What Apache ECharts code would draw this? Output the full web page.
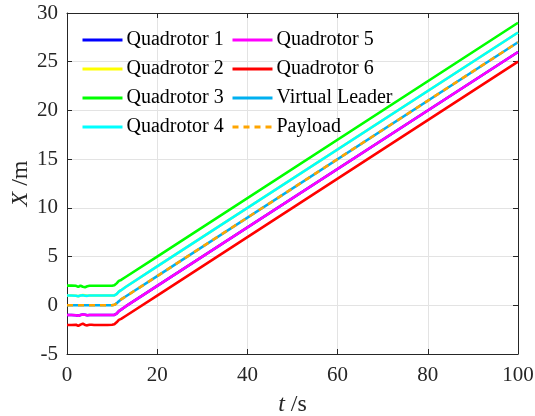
<!DOCTYPE html>
<html>
<head>
<meta charset="utf-8">
<script src="https://cdn.jsdelivr.net/npm/echarts@6/dist/echarts.min.js"></script>
<style>
  html, body { margin: 0; padding: 0; background: #fff; }
  #chart { width: 535px; height: 416px; }
</style>
</head>
<body>
<div id="chart"></div>
<script>
// Sample times (s) shared by every trajectory
const time = [0, 1, 2, 2.5, 3, 3.5, 4, 4.5, 5, 5.5, 6, 7, 8, 9, 10, 10.5, 11, 11.5, 12, 13, 20, 100];

// X position (m) of each agent at the sample times
const quad1 = [-1, -1, -1.02, -1.08, -1, -0.95, -0.98, -1.02, -1, -1, -1, -1, -1, -1, -1, -0.98, -0.85, -0.6, -0.45, -0.12, 2.0, 26.0];
const quad2 = [1, 1, 0.98, 0.92, 1, 1.05, 1.02, 0.98, 1, 1, 1, 1, 1, 1, 1, 1.02, 1.15, 1.4, 1.55, 1.88, 4.0, 28.0];
const quad3 = [2.02, 2.02, 2.0, 1.88, 2.02, 1.9, 1.86, 1.95, 2.0, 2.0, 2.0, 2.0, 2.0, 2.0, 2.0, 2.05, 2.25, 2.5, 2.6, 2.9, 5.0, 29.0];
const quad4 = [1, 1, 0.98, 0.93, 1, 1.03, 0.98, 0.97, 1, 1, 1, 1, 1, 1, 1, 1.02, 1.15, 1.4, 1.55, 1.88, 4.0, 28.0];
const quad5 = [-1, -1, -1.02, -1.08, -1, -0.95, -0.98, -1.02, -1, -1, -1, -1, -1, -1, -1, -0.98, -0.85, -0.6, -0.45, -0.12, 2.0, 26.0];
const quad6 = [-2.02, -2.02, -2.0, -2.12, -1.98, -1.88, -2.02, -2.06, -2.0, -2.0, -2.02, -2.02, -2.02, -2.02, -2.0, -1.95, -1.75, -1.5, -1.4, -1.1, 1.0, 25.0];
const leader = [0, 0, 0, 0, 0, 0, 0, 0, 0, 0, 0, 0, 0, 0, 0, 0.05, 0.2, 0.42, 0.6, 0.9, 3.0, 27.0];
const payload = [0, 0, 0, 0, 0, 0, 0, 0, 0, 0, 0, 0, 0, 0, 0, 0.05, 0.2, 0.42, 0.6, 0.9, 3.0, 27.0];

const names = ['Quadrotor 1', 'Quadrotor 2', 'Quadrotor 3', 'Quadrotor 4',
               'Quadrotor 5', 'Quadrotor 6', 'Virtual Leader', 'Payload'];
const values = [quad1, quad2, quad3, quad4, quad5, quad6, leader, payload];
const colors = ['#0000ff', '#ffff00', '#00ff00', '#00ffff',
                '#ff00ff', '#ff0000', '#00b0f0', '#ffa500'];

const xTicks = { min: 0, max: 100, interval: 20 };
const yTicks = { min: -5, max: 30, interval: 5 };

const FONT = '"Liberation Serif", "Times New Roman", serif';
const AXIS_COLOR = '#262626';
const LABEL_COLOR = '#262626';

const series = names.map((name, i) => ({
  name: name,
  type: 'line',
  showSymbol: false,
  symbol: 'none',
  animation: false,
  data: time.map((t, k) => [t, values[i][k]]),
  lineStyle: {
    color: colors[i],
    width: 2.6,
    type: name === 'Payload' ? [6, 5] : 'solid'
  },
  itemStyle: { color: colors[i] },
  z: 2 + i
}));

function legendBlock(left, items) {
  return {
    orient: 'vertical',
    left: left,
    top: 25,
    data: items,
    itemWidth: 40,
    itemHeight: 14,
    itemGap: 9,
    // only the line sample is shown, no marker on it
    itemStyle: { opacity: 0 },
    lineStyle: { width: 3 },
    textStyle: { fontFamily: FONT, fontSize: 20, color: '#000', padding: [0, 0, 0, -1] },
    selectedMode: false
  };
}

function edgeAxis(position, scale) {
  return {
    type: 'value', position: position,
    min: scale.min, max: scale.max, interval: scale.interval,
    axisLine: { show: true, onZero: false, lineStyle: { color: AXIS_COLOR, width: 1 } },
    axisTick: { show: true, inside: true, length: 5, lineStyle: { color: AXIS_COLOR } },
    axisLabel: { show: false },
    splitLine: { show: false }
  };
}

const chart = echarts.init(document.getElementById('chart'), null, { renderer: 'canvas' });
chart.setOption({
  backgroundColor: '#fff',
  animation: false,
  grid: { left: 67, right: 17, top: 13, bottom: 62, show: false, containLabel: false, outerBoundsMode: 'none' },
  legend: [
    legendBlock(76, names.slice(0, 4)),
    legendBlock(226, names.slice(4))
  ],
  xAxis: [{
    type: 'value', position: 'bottom',
    min: xTicks.min, max: xTicks.max, interval: xTicks.interval,
    axisLine: { show: true, onZero: false, lineStyle: { color: AXIS_COLOR, width: 1 } },
    axisTick: { show: true, inside: true, length: 5, lineStyle: { color: AXIS_COLOR } },
    axisLabel: { fontFamily: FONT, fontSize: 21, color: LABEL_COLOR, margin: 11 },
    splitLine: { show: true, lineStyle: { color: '#e3e3e3', width: 1 } },
    name: '{i|t} /s',
    nameLocation: 'middle',
    nameGap: 39,
    nameMoveOverlap: false,
    nameTextStyle: {
      fontFamily: FONT, fontSize: 24, color: LABEL_COLOR,
      rich: { i: { fontFamily: FONT, fontSize: 24, fontStyle: 'italic', color: LABEL_COLOR } }
    }
  }, edgeAxis('top', xTicks)],
  yAxis: [{
    type: 'value', position: 'left',
    min: yTicks.min, max: yTicks.max, interval: yTicks.interval,
    axisLine: { show: true, onZero: false, lineStyle: { color: AXIS_COLOR, width: 1 } },
    axisTick: { show: true, inside: true, length: 5, lineStyle: { color: AXIS_COLOR } },
    axisLabel: { fontFamily: FONT, fontSize: 21, color: LABEL_COLOR, margin: 9 },
    splitLine: { show: true, lineStyle: { color: '#e3e3e3', width: 1 } },
    name: '{i|X} /m',
    nameLocation: 'middle',
    nameGap: 34,
    nameMoveOverlap: false,
    nameRotate: 90,
    nameTextStyle: {
      fontFamily: FONT, fontSize: 24, color: LABEL_COLOR,
      rich: { i: { fontFamily: FONT, fontSize: 24, fontStyle: 'italic', color: LABEL_COLOR } }
    }
  }, edgeAxis('right', yTicks)],
  series: series
});
</script>
</body>
</html>
